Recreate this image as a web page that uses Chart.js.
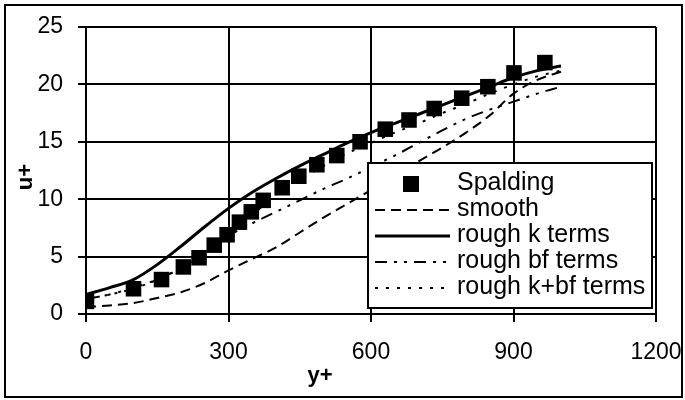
<!DOCTYPE html>
<html>
<head>
<meta charset="utf-8">
<script src="https://cdn.jsdelivr.net/npm/chart.js@4.4.0/dist/chart.umd.min.js"></script>
<style>
  body { margin: 0; background: #fff; }
  canvas { display: block; }
</style>
</head>
<body>
<canvas id="chart" width="685" height="400"></canvas>
<script>
// Spalding reference points (y+, u+)
const spaldingYplus = [1, 100, 159, 205, 238, 270, 297, 323, 348, 373, 413, 448, 486, 528, 577, 630, 680, 733, 791, 846, 901, 966];
const spaldingUplus = [1.1, 2.2, 3.0, 4.1, 4.9, 6.0, 6.9, 8.0, 8.9, 9.9, 11.0, 12.0, 13.0, 13.8, 15.0, 16.1, 16.9, 17.9, 18.8, 19.8, 21.0, 21.9];

// model curves, read every 50 y+
const modelYplus = [0, 50, 100, 150, 200, 250, 300, 350, 400, 450, 500, 550, 600, 650, 700, 750, 800, 850, 900, 950, 1000];
const smoothU = [0.6, 0.75, 0.95, 1.4, 1.9, 2.7, 3.8, 4.8, 5.8, 7.1, 8.4, 9.6, 10.8, 12.0, 13.3, 14.5, 15.8, 17.3, 19.2, 20.4, 21.1];
const roughKU = [1.7, 2.3, 3.0, 4.3, 5.9, 7.6, 9.2, 10.6, 11.8, 12.9, 13.9, 14.9, 15.8, 16.6, 17.4, 18.2, 19.0, 19.8, 20.6, 21.2, 21.6];
const roughBfU = [1.3, 1.7, 2.2, 3.0, 4.0, 5.2, 6.8, 7.9, 8.9, 9.9, 10.9, 11.8, 12.8, 13.8, 14.9, 16.0, 17.0, 17.8, 18.5, 19.2, 19.8];
const roughKBfU = [1.3, 1.7, 2.3, 3.0, 4.0, 5.3, 6.8, 8.6, 10.4, 11.7, 12.9, 14.0, 14.9, 15.8, 16.6, 17.5, 18.3, 19.2, 20.0, 20.7, 21.2];

const xTicks = [0, 300, 600, 900, 1200];
const yTicks = [0, 5, 10, 15, 20, 25];

const toPoints = (xs, ys) => xs.map((x, i) => ({ x: x, y: ys[i] }));

Chart.defaults.font.family = "'Liberation Sans', Arial, sans-serif";
Chart.defaults.color = "#000";

// white page, outer frame, axis titles and the boxed legend
const frame = {
  id: "frame",
  beforeDraw(chart) {
    const ctx = chart.ctx;
    ctx.save();
    ctx.fillStyle = "#fff";
    ctx.fillRect(0, 0, chart.width, chart.height);
    ctx.restore();
  },
  afterDraw(chart) {
    const ctx = chart.ctx;
    ctx.save();
    ctx.strokeStyle = "#000";
    ctx.lineWidth = 2;
    ctx.strokeRect(5, 5, 677, 392);

    ctx.fillStyle = "#000";
    ctx.font = "bold 22px 'Liberation Sans', Arial, sans-serif";
    ctx.textAlign = "center";
    ctx.textBaseline = "alphabetic";
    ctx.fillText("y+", 320, 382);
    ctx.save();
    ctx.translate(32, 177);
    ctx.rotate(-Math.PI / 2);
    ctx.fillText("u+", 0, 0);
    ctx.restore();

    // legend
    ctx.fillStyle = "#fff";
    ctx.fillRect(368, 163, 284, 145);
    ctx.strokeRect(368, 163, 284, 145);
    ctx.font = "25px 'Liberation Sans', Arial, sans-serif";
    ctx.textAlign = "left";
    chart.data.datasets.forEach((ds, i) => {
      const rowY = 184 + i * 26;
      ctx.fillStyle = "#000";
      if (ds.showLine) {
        ctx.save();
        ctx.lineWidth = ds.borderWidth;
        ctx.setLineDash(ds.borderDash || []);
        ctx.beginPath();
        ctx.moveTo(375, rowY);
        ctx.lineTo(450, rowY);
        ctx.stroke();
        ctx.restore();
      } else {
        ctx.fillRect(403, rowY - 8, 16, 16);
      }
      ctx.fillText(ds.label, 457, rowY + 6);
    });
    ctx.restore();
  }
};

const ctx = document.getElementById("chart").getContext("2d");
new Chart(ctx, {
  type: "scatter",
  data: {
    datasets: [
      {
        label: "Spalding",
        data: toPoints(spaldingYplus, spaldingUplus),
        pointStyle: "rect",
        pointRadius: 11,
        pointBackgroundColor: "#000",
        pointBorderWidth: 0,
        showLine: false
      },
      {
        label: "smooth",
        data: toPoints(modelYplus, smoothU),
        showLine: true,
        borderColor: "#000",
        borderWidth: 2,
        borderDash: [10, 6],
        pointRadius: 0,
        cubicInterpolationMode: "monotone"
      },
      {
        label: "rough k terms",
        data: toPoints(modelYplus, roughKU),
        showLine: true,
        borderColor: "#000",
        borderWidth: 3,
        pointRadius: 0,
        cubicInterpolationMode: "monotone"
      },
      {
        label: "rough bf terms",
        data: toPoints(modelYplus, roughBfU),
        showLine: true,
        borderColor: "#000",
        borderWidth: 2,
        borderDash: [12, 7, 3, 7, 3, 7],
        pointRadius: 0,
        cubicInterpolationMode: "monotone"
      },
      {
        label: "rough k+bf terms",
        data: toPoints(modelYplus, roughKBfU),
        showLine: true,
        borderColor: "#000",
        borderWidth: 2,
        borderDash: [3, 8],
        pointRadius: 0,
        cubicInterpolationMode: "monotone"
      }
    ]
  },
  options: {
    responsive: false,
    animation: false,
    devicePixelRatio: 1,
    layout: { padding: { top: 27, right: 29, left: 0, bottom: 0 } },
    plugins: { legend: { display: false }, tooltip: { enabled: false } },
    scales: {
      x: {
        type: "linear",
        min: xTicks[0],
        max: xTicks[xTicks.length - 1],
        afterBuildTicks: s => { s.ticks = xTicks.map(v => ({ value: v })); },
        ticks: { font: { size: 23 }, padding: 17, maxRotation: 0, callback: v => String(v) },
        grid: { color: "#000", lineWidth: 2, tickLength: 8, tickColor: "#000" },
        border: { color: "#000", width: 2 },
        afterFit: s => { s.height = 86; s.paddingLeft = 0; s.paddingRight = 0; }
      },
      y: {
        type: "linear",
        min: yTicks[0],
        max: yTicks[yTicks.length - 1],
        afterBuildTicks: s => { s.ticks = yTicks.map(v => ({ value: v })); },
        ticks: { font: { size: 23 }, padding: 15, callback: v => String(v) },
        grid: { color: "#000", lineWidth: 2, tickLength: 8, tickColor: "#000" },
        border: { color: "#000", width: 2 },
        afterFit: s => { s.width = 86; s.paddingTop = 0; s.paddingBottom = 0; }
      }
    }
  },
  plugins: [frame]
});
</script>
</body>
</html>
